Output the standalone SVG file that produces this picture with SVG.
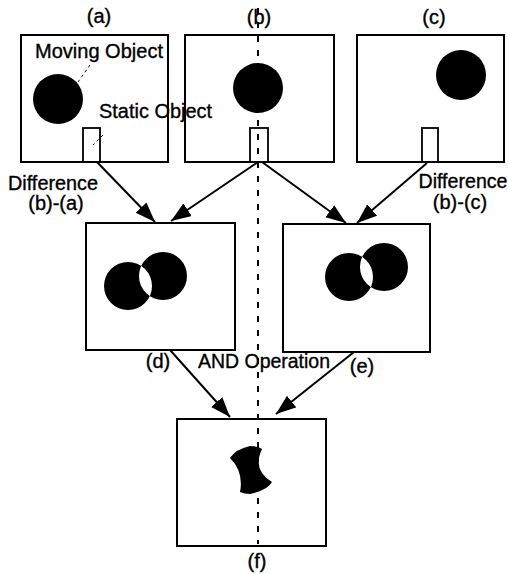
<svg xmlns="http://www.w3.org/2000/svg" width="508" height="574" viewBox="0 0 508 574">
<style>
.frame{fill:none;stroke:#000;stroke-width:2}
.obj{fill:#000}
.small{fill:none;stroke:#000;stroke-width:1.8}
.lbl{font-family:"Liberation Sans",Arial,sans-serif;font-size:20px;fill:#000;stroke:#000;stroke-width:0.35}
.conn{stroke:#000;stroke-width:2;fill:none}
.lead{stroke:#000;stroke-width:0.9;stroke-dasharray:3 3;fill:none}
</style>
<defs>
<marker id="ah" markerUnits="userSpaceOnUse" markerWidth="22" markerHeight="16" refX="20" refY="7.5" orient="auto">
<path d="M0,0 L20,7.5 L0,15 Z" fill="#000"/>
</marker>
</defs>
<rect width="508" height="574" fill="#fff"/>

<g id="node-a">
<rect class="frame" x="21" y="35" width="147" height="127"/>
<circle class="obj" cx="58" cy="99" r="25"/>
<rect class="small" x="83" y="128" width="17" height="34"/>
<text class="lbl" x="99" y="23" text-anchor="middle">(a)</text>
<text class="lbl" x="35" y="58" textLength="128" lengthAdjust="spacingAndGlyphs">Moving Object</text>
<text class="lbl" x="99" y="118" textLength="113" lengthAdjust="spacingAndGlyphs">Static Object</text>
<line class="lead" x1="90" y1="65" x2="78" y2="82"/>
<line class="lead" x1="103" y1="135" x2="93" y2="145"/>
</g>

<g id="node-b">
<rect class="frame" x="185" y="35" width="149" height="127"/>
<circle class="obj" cx="258" cy="88" r="25"/>
<rect class="small" x="250" y="128" width="18" height="34"/>
<text class="lbl" x="259" y="24" text-anchor="middle">(b)</text>
</g>

<g id="node-c">
<rect class="frame" x="357" y="35" width="147" height="127"/>
<circle class="obj" cx="461" cy="75" r="25"/>
<rect class="small" x="422" y="128" width="16" height="34"/>
<text class="lbl" x="434" y="24" text-anchor="middle">(c)</text>
</g>

<g id="node-d">
<rect class="frame" x="86" y="223" width="149" height="127"/>
<path class="obj" fill-rule="evenodd" d="M104,286 a24,24 0 1,0 48,0 a24,24 0 1,0 -48,0 Z M139,276 a24,24 0 1,0 48,0 a24,24 0 1,0 -48,0 Z"/>
<text class="lbl" x="158" y="368" text-anchor="middle">(d)</text>
</g>

<g id="node-e">
<rect class="frame" x="283" y="224" width="147" height="128"/>
<path class="obj" fill-rule="evenodd" d="M325,277 a24,24 0 1,0 48,0 a24,24 0 1,0 -48,0 Z M360,267 a24,24 0 1,0 48,0 a24,24 0 1,0 -48,0 Z"/>
<text class="lbl" x="362" y="373" text-anchor="middle">(e)</text>
</g>

<g id="node-f">
<rect class="frame" x="177" y="419" width="149" height="127"/>
<path class="obj" d="M230,458 Q236,449 250,446 Q258,446 262,449 Q252,470 272,482 Q268,490 250,494 Q244,494 240,492 Q244,472 230,458 Z"/>
<text class="lbl" x="257" y="568" text-anchor="middle">(f)</text>
</g>

<g id="labels">
<text class="lbl" x="53" y="190" text-anchor="middle" textLength="90" lengthAdjust="spacingAndGlyphs">Difference</text>
<text class="lbl" x="56" y="210" text-anchor="middle">(b)-(a)</text>
<text class="lbl" x="463" y="188" text-anchor="middle" textLength="89" lengthAdjust="spacingAndGlyphs">Difference</text>
<text class="lbl" x="460" y="209" text-anchor="middle">(b)-(c)</text>
<text class="lbl" x="264" y="368" text-anchor="middle" textLength="132" lengthAdjust="spacingAndGlyphs">AND Operation</text>
</g>

<g id="connectors">
<line class="conn" x1="97" y1="162" x2="155" y2="222" marker-end="url(#ah)"/>
<line class="conn" x1="258" y1="162" x2="171" y2="221" marker-end="url(#ah)"/>
<line class="conn" x1="262" y1="162" x2="346" y2="223" marker-end="url(#ah)"/>
<line class="conn" x1="427" y1="163" x2="357" y2="223" marker-end="url(#ah)"/>
<line class="conn" x1="170" y1="350" x2="230" y2="417" marker-end="url(#ah)"/>
<line class="conn" x1="354" y1="352" x2="276" y2="414" marker-end="url(#ah)"/>
<line stroke="#000" stroke-width="2" stroke-dasharray="6 8" x1="258" y1="8" x2="258" y2="544"/>
</g>
</svg>
